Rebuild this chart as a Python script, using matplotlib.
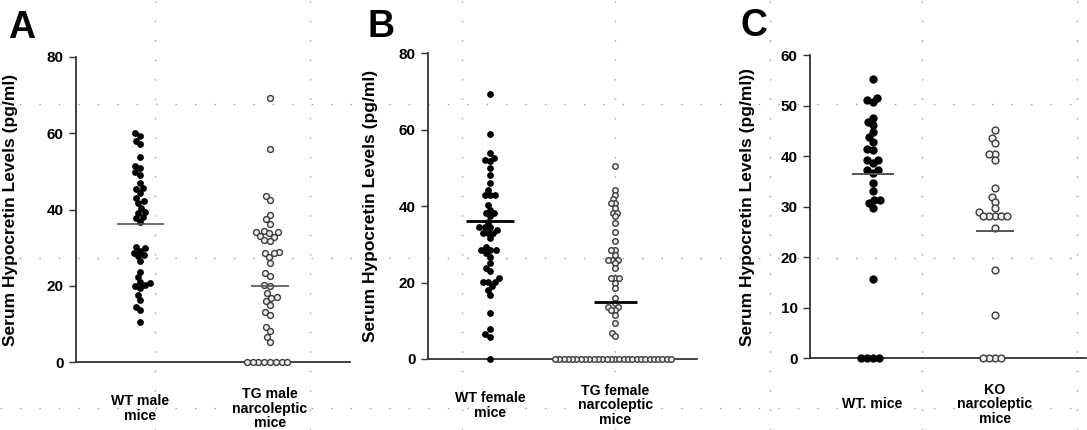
import numpy as np
import matplotlib
matplotlib.use("Agg")
import matplotlib.pyplot as plt

plt.rcParams['font.family'] = ['Liberation Sans', 'DejaVu Sans']
plt.rcParams['font.weight'] = 'bold'

# ---- data (pg/ml) ----
wt_male = [59.9, 59.2, 58.0, 57.1, 53.8, 51.4, 50.8, 49.7, 49.1, 46.9, 45.5, 45.3,
           44.2, 42.9, 42.1, 41.6, 40.3, 39.4, 39.0, 38.1, 37.7, 36.8, 30.3, 29.8,
           29.2, 28.5, 28.1, 27.8, 26.4, 23.7, 22.4, 21.1, 20.7, 20.2, 20.0, 19.4,
           17.6, 16.3, 14.6, 13.7, 10.6]
tg_male = [69.1, 55.8, 43.6, 42.5, 38.6, 37.4, 36.3, 34.4, 34.2, 34.0, 33.8, 33.1,
           32.9, 32.0, 31.8, 28.9, 28.7, 28.5, 27.6, 26.1, 23.3, 22.6, 20.2, 20.1,
           18.1, 17.0, 16.9, 16.1, 15.0, 13.2, 12.4, 9.3, 8.3, 6.7, 5.4,
           0, 0, 0, 0, 0, 0, 0, 0]
wt_female = [69.4, 58.8, 53.8, 52.5, 52.1, 51.7, 49.9, 48.2, 46.0, 44.2, 42.9, 42.9,
             42.9, 40.3, 39.0, 38.1, 38.1, 37.3, 35.9, 34.6, 34.6, 34.6, 33.8, 32.9,
             32.9, 32.9, 31.6, 29.4, 28.5, 28.5, 28.5, 27.7, 26.8, 25.1, 23.7, 22.9,
             21.1, 20.2, 20.2, 20.2, 19.1, 18.1, 16.8, 12.0, 7.8, 6.5, 5.8, 0]
tg_female = [50.5, 44.2, 42.9, 41.8, 40.8, 40.8, 39.4, 38.3, 38.3, 37.3, 35.5, 33.3,
             30.9, 28.5, 28.5, 27.2, 25.9, 25.9, 25.9, 25.1, 23.7, 21.1, 21.1, 21.1,
             19.8, 18.5, 15.9, 14.7, 13.7, 13.7, 12.8, 12.8, 11.5, 9.3, 6.7, 6.0] + [0] * 28
wt_mice = [55.2, 51.5, 51.1, 50.8, 47.5, 46.8, 46.1, 44.8, 43.8, 42.8, 41.5, 41.2,
           39.2, 39.2, 38.6, 37.2, 37.2, 36.6, 34.6, 33.0, 31.4, 31.4, 30.7, 29.7,
           15.6, 0, 0, 0, 0]
ko_mice = [45.2, 43.5, 42.5, 40.4, 40.4, 39.2, 33.6, 32.0, 31.0, 29.7, 29.0, 28.1,
           28.1, 28.1, 28.1, 28.1, 25.7, 17.5, 8.6, 0, 0, 0, 0]

means_a = [36.1, 20.0]
means_b = [36.2, 14.9]
means_c = [36.5, 25.2]

labels_a = ["WT male\nmice", "TG male\nnarcoleptic\nmice"]
labels_b = ["WT female\nmice", "TG female\nnarcoleptic\nmice"]
labels_c = ["WT. mice", "KO\nnarcoleptic\nmice"]

ticks_ab = [0, 20, 40, 60, 80]
ticks_c = [0, 10, 20, 30, 40, 50, 60]

ylabel = "Serum Hypocretin Levels (pg/ml)"
ylabel_c = "Serum Hypocretin Levels (pg/ml))"

W, H = 1087, 430
fig = plt.figure(figsize=(W / 100, H / 100), dpi=100)
fig.patch.set_facecolor('white')

# faint dotted page grid behind everything
bg = fig.add_axes([0, 0, 1, 1], zorder=-5)
bg.set_xlim(0, W)
bg.set_ylim(H, 0)
bg.axis('off')
for gx in [155, 310, 462, 615, 770, 922, 1077]:
    bg.axvline(gx, color='#a0a0a0', lw=1.0, dashes=(1, 13))
for gy in [104, 258, 408]:
    bg.axhline(gy, color='#a0a0a0', lw=1.0, dashes=(1, 13))


def px_box(left, right, top, bottom):
    return [left / W, 1 - bottom / H, (right - left) / W, (bottom - top) / H]


def swarm(ax, xc, vals, d):
    # simple beeswarm in pixel space, d = min spacing in px
    vals = np.asarray(vals, float)
    pts = ax.transData.transform(np.column_stack([np.full(len(vals), xc), vals]))
    x0 = pts[0, 0]
    ys = pts[:, 1]
    xs = np.full(len(vals), x0)
    done = []
    for i in np.argsort(ys, kind='stable'):
        y = ys[i]
        cands = [x0]
        for j in done:
            dy = abs(ys[j] - y)
            if dy < d:
                dx = np.sqrt(d * d - dy * dy)
                cands += [xs[j] + dx, xs[j] - dx]
        cands.sort(key=lambda c: (abs(c - x0), c))
        for c in cands:
            if all((xs[j] - c) ** 2 + (ys[j] - y) ** 2 >= d * d - 1e-6 for j in done):
                xs[i] = c
                break
        done.append(i)
    out = ax.transData.inverted().transform(np.column_stack([xs, ys]))
    return out[:, 0], vals


def panel(box, letter, groups, means, labels, ylim, yticks, ylab, xpos, spec):
    ax = fig.add_axes(px_box(*box))
    ax.set_xlim(0, 1)
    ax.set_ylim(*ylim)
    ax.patch.set_alpha(0)
    for s in ['top', 'right']:
        ax.spines[s].set_visible(False)
    ax.spines['left'].set_color('#333333')
    ax.spines['bottom'].set_color('#333333')
    ax.spines['left'].set_linewidth(1.3)
    ax.spines['bottom'].set_linewidth(1.3)
    ax.set_xticks([])
    ax.set_yticks(yticks)
    ax.tick_params(axis='y', length=5, width=1, color='#333333', labelsize=11, pad=4)
    ax.set_ylabel(ylab, fontsize=12.5, fontweight='bold')
    ax.yaxis.set_label_coords(spec['labx'], 0.5)

    for k, vals in enumerate(groups):
        x, y = swarm(ax, xpos[k], vals, spec['gap'][k])
        if k == 0:
            ax.scatter(x, y, s=spec['size'][0], color='black', zorder=3, clip_on=False,
                       linewidths=0)
        else:
            ax.scatter(x, y, s=spec['size'][1], facecolor='#eeeeee', edgecolor='#3c3c3c',
                       linewidths=1.0, zorder=3, clip_on=False)
        hw = spec['half'][k]
        ax.plot([xpos[k] - hw, xpos[k] + hw], [means[k]] * 2, color=spec['mcol'],
                lw=spec['mlw'], zorder=4, solid_capstyle='butt')
        ax.text(xpos[k], -0.152, labels[k], transform=ax.transAxes, ha='center', va='center',
                fontsize=10.2, fontweight='bold', linespacing=1.05)

    fig.text(spec['letter'][0] / W, 1 - spec['letter'][1] / H, letter, fontsize=27,
             fontweight='bold', ha='left', va='center')
    return ax


panel((76, 350, 56.7, 362.3), 'A', [wt_male, tg_male], means_a, labels_a, (0, 80),
      ticks_ab, ylabel, [0.234, 0.708],
      dict(gap=[5.6, 5.8], size=[24, 18], half=[0.086, 0.07], mcol='#555555', mlw=1.2,
           labx=-0.212, letter=(8, 28)))
panel((428.3, 696.7, 53.3, 359), 'B', [wt_female, tg_female], means_b, labels_b, (0, 80),
      ticks_ab, ylabel, [0.230, 0.696],
      dict(gap=[5.4, 4.3], size=[24, 16], half=[0.088, 0.08], mcol='black', mlw=2.0,
           labx=-0.187, letter=(368, 27)))
panel((810, 1086, 55, 358.3), 'C', [wt_mice, ko_mice], means_c, labels_c, (0, 60),
      ticks_c, ylabel_c, [0.227, 0.670],
      dict(gap=[6.0, 6.0], size=[36, 24], half=[0.076, 0.07], mcol='#555555', mlw=1.4,
           labx=-0.199, letter=(740, 26)))

fig.savefig('out.png', dpi=100, facecolor='white')
